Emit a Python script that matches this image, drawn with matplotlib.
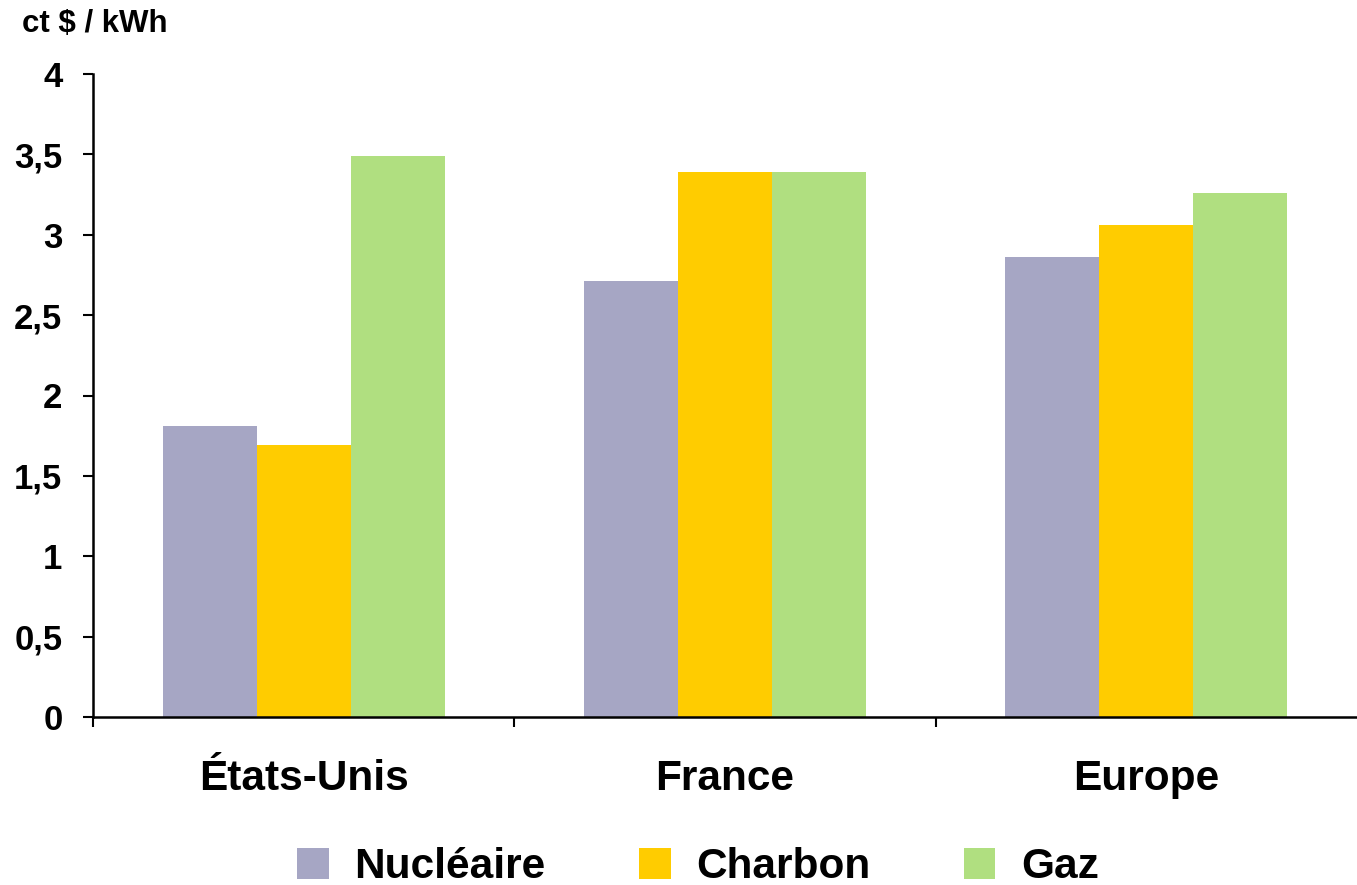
import matplotlib
matplotlib.use("Agg")
import matplotlib.pyplot as plt
from matplotlib.patches import Patch
from matplotlib.ticker import FixedLocator
import numpy as np

plt.rcParams['font.family'] = ['Liberation Sans', 'DejaVu Sans']
plt.rcParams['font.weight'] = 'bold'

categories = ["États-Unis", "France", "Europe"]
series_names = ["Nucléaire", "Charbon", "Gaz"]
nucleaire = [1.81, 2.71, 2.86]
charbon = [1.69, 3.39, 3.06]
gaz = [3.49, 3.39, 3.26]
colors = ["#A6A6C4", "#FFCC00", "#B0DF80"]
y_ticks = [0, 0.5, 1, 1.5, 2, 2.5, 3, 3.5, 4]
y_labels = ["0", "0,5", "1", "1,5", "2", "2,5", "3", "3,5", "4"]

W, H = 1357, 885
fig = plt.figure(figsize=(W / 100, H / 100), dpi=100)
ax = fig.add_axes([93 / W, 1 - 717 / H, (W - 93) / W, (717 - 74) / H])

x = np.arange(len(categories))
bw = 0.223
for i, (vals, c) in enumerate(zip([nucleaire, charbon, gaz], colors)):
    ax.bar(x + (i - 1) * bw, vals, width=bw, color=c, edgecolor='none', zorder=2)

ax.set_xlim(-0.5, len(categories) - 0.5)
ax.set_ylim(0, 4)
ax.set_yticks(y_ticks)
ax.set_yticklabels(y_labels, fontsize=25, fontweight='bold')
ax.set_xticks(x)
ax.set_xticklabels(categories, fontsize=30.5, fontweight='bold')
ax.tick_params(axis='x', which='major', length=0, pad=30)
ax.xaxis.set_minor_locator(FixedLocator([-0.5, 0.5, 1.5]))
ax.tick_params(axis='x', which='minor', length=7, width=1.5, direction='out')
ax.tick_params(axis='y', length=7, width=1.5, direction='out', pad=15)

for s in ['top', 'right']:
    ax.spines[s].set_visible(False)
for s in ['left', 'bottom']:
    ax.spines[s].set_linewidth(1.8)

fig.text(22 / W, 1 - 32 / H, "ct $ / kWh", fontsize=22.5, fontweight='bold',
         ha='left', va='baseline')

handles = [Patch(facecolor=c, edgecolor='none') for c in colors]
fig.legend(handles, series_names, loc='center', bbox_to_anchor=(698 / W, 1 - 867 / H),
           ncol=3, frameon=False, prop={'size': 30.5, 'weight': 'bold'},
           handlelength=0.75, handleheight=0.75, handletextpad=0.6, columnspacing=2.2,
           borderpad=0)

fig.savefig("out.png", dpi=100)
